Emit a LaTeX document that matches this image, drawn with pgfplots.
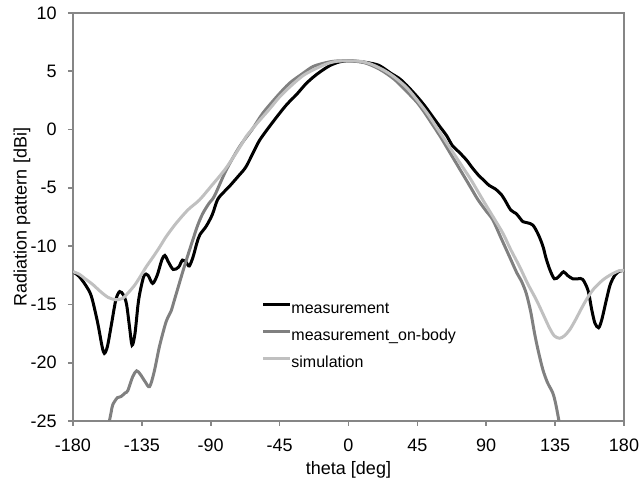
\documentclass[border=0pt]{standalone}
\usepackage{fontspec}
\setmainfont{Liberation Sans}
\usepackage{pgfplots}
\pgfplotsset{compat=1.18}
\definecolor{axgray}{HTML}{868686}
\definecolor{dgray}{HTML}{808080}
\definecolor{lgray}{HTML}{C0C0C0}
\begin{document}
\fontsize{9}{11}\selectfont
\begin{tikzpicture}
\begin{axis}[
  at={(0,0)}, anchor=south west,
  scale only axis, width=275.5pt, height=204pt,
  xmin=-180, xmax=180, ymin=-25, ymax=10,
  xtick={-180,-135,...,180}, ytick={-25,-20,...,10},
  /pgf/number format/assume math mode=true,
  tick label style={font=\fontsize{9}{11}\selectfont, text=black},
  xticklabel style={yshift=-3.3pt},
  yticklabel style={xshift=-2.5pt},
  label style={font=\fontsize{9}{11}\selectfont},
  axis line style={axgray, line width=0.8pt},
  tick style={axgray, line width=0.8pt},
  tick align=outside, major tick length=2.5pt,
  xtick pos=bottom, ytick pos=left,
  xlabel={theta [deg]}, ylabel={Radiation pattern [dBi]},
  xlabel style={at={(axis description cs:0.5,-0.120)}, anchor=center},
  ylabel style={at={(axis description cs:-0.0926,0.5)}, anchor=center},
  legend style={at={(0.342,0.2936)}, anchor=north west, draw=none, fill=none,
    inner sep=0pt, font=\fontsize{8}{10}\selectfont,
    nodes={inner sep=0pt, text height=6pt, text depth=1.5pt}, row sep=6pt},
  legend cell align=left,
  legend image code/.code={\draw[#1] (0pt,2.1pt) -- (13.3pt,2.1pt);},
  every axis plot/.append style={line width=1.5pt, smooth, tension=0.5},
]
\addplot[black] coordinates {
(-180,-12.2) (-176,-12.6) (-171.5,-13.4) (-168,-14.3) (-164,-16.5) (-161,-18.6)
(-159.5,-19.2) (-157.5,-18.6) (-155,-16.8) (-152,-14.6) (-149.5,-13.9) (-147,-14.2)
(-145,-15.0) (-143,-17.0) (-141.4,-18.5) (-139.5,-17.5) (-137.5,-15.0) (-136,-13.8)
(-133.5,-12.5) (-131,-12.5) (-128,-13.2) (-125,-12.5) (-122,-11.2) (-120,-10.8)
(-117.5,-11.4) (-114.5,-12.0) (-111,-11.8) (-108.5,-11.2) (-106,-11.4) (-104,-11.7)
(-101.5,-10.9) (-99,-9.7) (-97,-9.0) (-93,-8.3) (-89,-7.3) (-85.5,-6.0) (-81,-5.3)
(-78,-4.9) (-72,-4.0) (-67,-3.2) (-62,-1.9) (-58,-0.9) (-52,0.2) (-45,1.4) (-40,2.2)
(-34,3.0) (-28,3.9) (-23,4.5) (-18,5.0) (-12,5.5) (-6,5.8) (0,5.9) (6,5.85) (12,5.75)
(20,5.5) (28,4.8) (33,4.4) (38,3.8) (45,2.8) (50,2.0) (55,1.1) (60,0.2) (64,-0.5)
(68,-1.4) (72,-1.9) (77,-2.6) (81,-3.3) (85.5,-4.0) (88,-4.3) (92,-4.8) (96,-5.1)
(100,-5.6) (102,-6.0) (106,-6.9) (109.5,-7.2) (112,-7.6) (114,-7.9) (117,-8.0)
(120.5,-8.2) (124,-9.0) (127,-10.0) (129,-11.0) (131.5,-12.0) (134.5,-12.8)
(137.5,-12.6) (140.5,-12.2) (143,-12.5) (146.5,-12.8) (150,-12.8) (153,-12.85)
(156.5,-13.8) (159,-15.5) (161,-16.6) (163.4,-17.0) (165.5,-16.3) (168.5,-14.6)
(171,-13.3) (174,-12.5) (177,-12.15) (180,-12.1)
};
\addlegendentry{measurement}
\addplot[dgray] coordinates {
(-156.2,-25) (-155,-24.2) (-154,-23.6) (-151,-23.0) (-148.6,-22.9) (-146,-22.6)
(-144.2,-22.4) (-141,-21.2) (-138.4,-20.7) (-136,-21.0) (-133,-21.6) (-130,-22.05)
(-127,-20.8) (-123.5,-18.6) (-119.2,-16.5) (-116,-15.6) (-113.7,-14.6) (-111,-13.4)
(-108.3,-12.2) (-105,-10.8) (-101.8,-9.5) (-98.5,-8.2) (-95.2,-7.2) (-91,-6.3)
(-87.6,-5.7) (-80,-3.5) (-71.2,-1.47) (-63,0.0) (-56,1.4) (-47,2.8) (-38.6,3.97)
(-30,4.8) (-23.3,5.4) (-16,5.7) (-10.3,5.85) (-5,5.9) (0,5.9) (10,5.75) (20,5.2)
(30,4.3) (40,3.0) (45,2.3) (50,1.4) (55,0.4) (60,-0.6) (65,-1.7) (70,-2.8) (75,-3.9)
(80,-5.0) (84.5,-6.0) (90,-7.0) (94.3,-7.75) (100,-9.4) (105.2,-10.9) (110,-12.3)
(113,-13.0) (116.1,-14.04) (119,-15.6) (121.6,-17.5) (124,-19.0) (127,-20.6)
(130,-21.7) (133.5,-22.6) (135.5,-23.6) (137.5,-25)
};
\addlegendentry{measurement\_on-body}
\addplot[lgray] coordinates {
(-180,-12.2) (-176,-12.4) (-172,-12.8) (-167,-13.3) (-162,-13.9) (-157,-14.4)
(-152,-14.6) (-148,-14.5) (-145.3,-14.2) (-140,-13.4) (-136,-12.6) (-132.3,-11.8)
(-127,-10.8) (-123,-10.0) (-119.2,-9.2) (-113,-8.1) (-105,-6.9) (-97.4,-6.04)
(-90,-4.9) (-80,-3.3) (-70,-1.3) (-66.9,-0.6) (-60,0.5) (-52,1.7) (-45,2.8)
(-38,3.7) (-30,4.6) (-23.3,5.1) (-15,5.6) (-8,5.85) (0,5.9) (8,5.85) (15,5.6)
(23,5.1) (30,4.5) (38,3.6) (45,2.5) (52,1.3) (60,-0.3) (68,-1.9) (75,-3.3) (80,-4.3)
(87.8,-6.04) (95,-7.6) (100.9,-8.9) (106,-10.3) (111.8,-11.76) (117,-13.2)
(122.7,-14.6) (127,-15.8) (131.4,-17.04) (134.5,-17.7) (137.9,-17.9) (141,-17.7)
(144.4,-17.2) (148,-16.4) (152,-15.4) (155.4,-14.6) (160,-13.7) (166.2,-12.9)
(172,-12.4) (177.1,-12.1) (180,-12.1)
};
\addlegendentry{simulation}
\end{axis}
\pgfresetboundingbox
\useasboundingbox (-36.5pt,-30pt) rectangle (285pt,210.5pt);
\end{tikzpicture}
\end{document}
